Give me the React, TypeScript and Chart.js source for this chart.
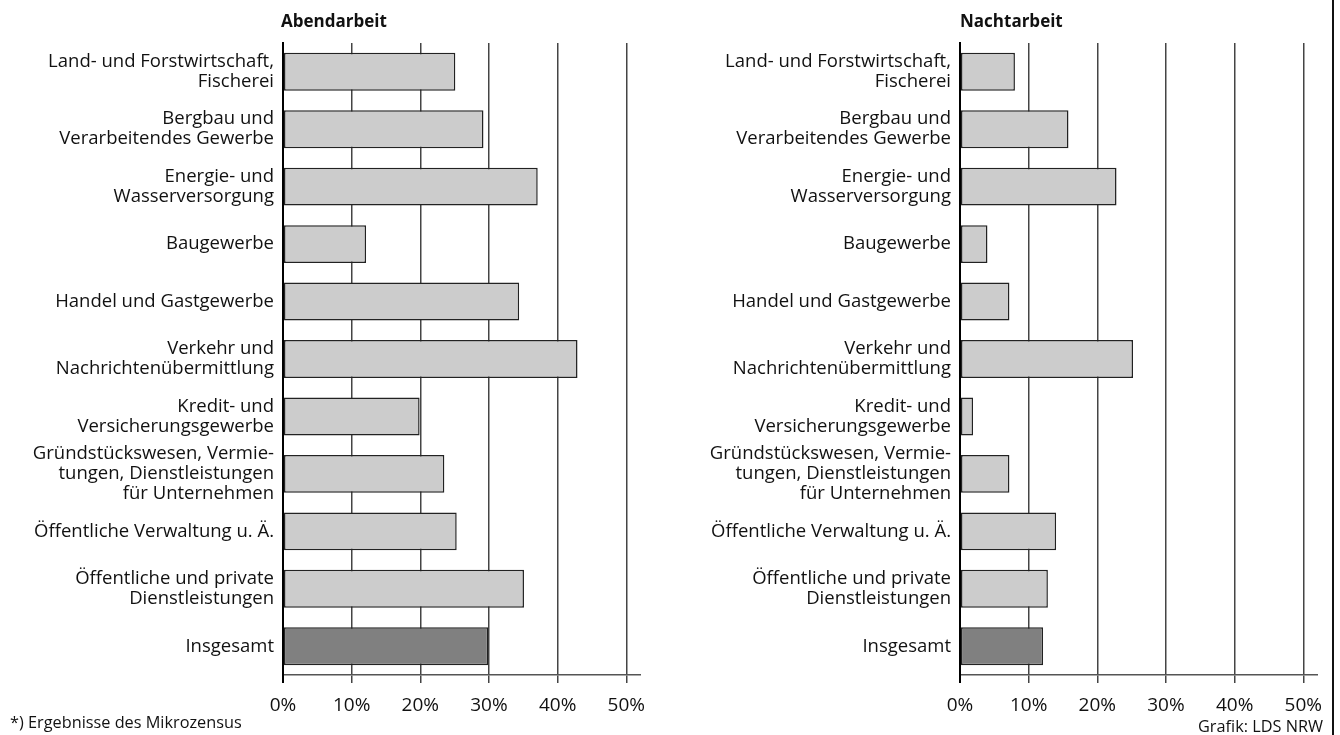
import React, { useEffect, useRef } from "react";
import { Chart, registerables } from "chart.js";

Chart.register(...registerables);

const categories: (string | string[])[] = [
  ["Land- und Forstwirtschaft,", "Fischerei"],
  ["Bergbau und", "Verarbeitendes Gewerbe"],
  ["Energie- und", "Wasserversorgung"],
  "Baugewerbe",
  "Handel und Gastgewerbe",
  ["Verkehr und", "Nachrichtenübermittlung"],
  ["Kredit- und", "Versicherungsgewerbe"],
  ["Gründstückswesen, Vermie-", "tungen, Dienstleistungen", "für Unternehmen"],
  "Öffentliche Verwaltung u. Ä.",
  ["Öffentliche und private", "Dienstleistungen"],
  "Insgesamt",
];

const abendValues = [25.1, 29.2, 37.1, 12.1, 34.4, 42.9, 19.9, 23.5, 25.3, 35.1, 29.9];
const nachtValues = [8.0, 15.8, 22.8, 4.0, 7.2, 25.2, 1.9, 7.2, 14.0, 12.8, 12.1];

const barColors = [
  "#cccccc", "#cccccc", "#cccccc", "#cccccc", "#cccccc", "#cccccc",
  "#cccccc", "#cccccc", "#cccccc", "#cccccc", "#808080",
];

const FONT = "'Open Sans', 'DejaVu Sans', sans-serif";

type PanelProps = {
  title: string;
  values: number[];
  left: number;
  width: number;
  axisWidth: number;
  padRight: number;
  titleDx: number;
};

function Panel({ title, values, left, width, axisWidth, padRight, titleDx }: PanelProps) {
  const ref = useRef<HTMLCanvasElement | null>(null);

  useEffect(() => {
    if (!ref.current) return;
    const titlePlugin = {
      id: "panelTitle",
      afterDraw(chart: any) {
        const ctx = chart.ctx;
        ctx.save();
        ctx.font = `bold 17px ${FONT}`;
        ctx.fillStyle = "#111";
        ctx.textAlign = "left";
        ctx.textBaseline = "middle";
        ctx.fillText(title, chart.chartArea.left + titleDx, 22);
        ctx.restore();
      },
    };
    const chart = new Chart(ref.current, {
      type: "bar",
      data: {
        labels: categories as any,
        datasets: [
          {
            data: values,
            backgroundColor: barColors,
            borderColor: "#222",
            borderWidth: 1.5,
            borderSkipped: false,
            barPercentage: 0.66,
            categoryPercentage: 1,
          },
        ],
      },
      options: {
        indexAxis: "y",
        animation: false,
        responsive: false,
        maintainAspectRatio: false,
        layout: { padding: { top: 43, right: padRight, left: 0, bottom: 0 } },
        plugins: {
          legend: { display: false },
          tooltip: { enabled: false },
          title: { display: false },
        },
        scales: {
          x: {
            min: 0,
            max: 52,
            afterFit: (s: any) => {
              s.height = 60;
            },
            border: { display: true, color: "#555", width: 1.5 },
            grid: {
              color: (c: any) => (c.index === 0 ? "#000" : "#444"),
              lineWidth: (c: any) => (c.index === 0 ? 2 : 1.5),
              drawTicks: true,
              tickLength: 8,
            },
            ticks: {
              stepSize: 10,
              includeBounds: false,
              callback: (v: any) => v + "%",
              font: { family: FONT, size: 19 },
              color: "#111",
              padding: 11,
              maxRotation: 0,
            },
          } as any,
          y: {
            afterFit: (s: any) => {
              s.width = axisWidth;
            },
            grid: { display: false, drawTicks: false },
            border: { display: true, color: "#000", width: 2 },
            ticks: {
              autoSkip: false,
              font: { family: FONT, size: 18.5, lineHeight: 1.08 },
              color: "#111",
              padding: 9,
            },
          } as any,
        },
      },
      plugins: [titlePlugin],
    });
    return () => chart.destroy();
  }, [title, values, axisWidth, padRight, titleDx]);

  return (
    <div style={{ position: "absolute", left, top: 0, width, height: 735 }}>
      <canvas ref={ref} width={width} height={735} style={{ width, height: 735, display: "block" }} />
    </div>
  );
}

export default function App() {
  return (
    <div
      style={{
        position: "absolute",
        left: 0,
        top: 0,
        width: 1340,
        height: 735,
        background: "#fff",
        overflow: "hidden",
      }}
    >
      <Panel title="Abendarbeit" values={abendValues} left={0} width={670} axisWidth={283} padRight={30} titleDx={-2} />
      <Panel title="Nachtarbeit" values={nachtValues} left={670} width={670} axisWidth={290} padRight={23} titleDx={0} />
      <div
        style={{
          position: "absolute",
          left: 1332,
          top: 0,
          width: 2,
          height: 735,
          background: "#111",
        }}
      />
      <div
        style={{
          position: "absolute",
          left: 10,
          top: 712,
          fontFamily: FONT,
          fontSize: 16.3,
          color: "#111",
          whiteSpace: "nowrap",
          lineHeight: "20px",
        }}
      >
        *) Ergebnisse des Mikrozensus
      </div>
      <div
        style={{
          position: "absolute",
          right: 1340 - 1323,
          top: 716,
          fontFamily: FONT,
          fontSize: 16.3,
          color: "#111",
          whiteSpace: "nowrap",
          lineHeight: "20px",
        }}
      >
        Grafik: LDS NRW
      </div>
    </div>
  );
}
